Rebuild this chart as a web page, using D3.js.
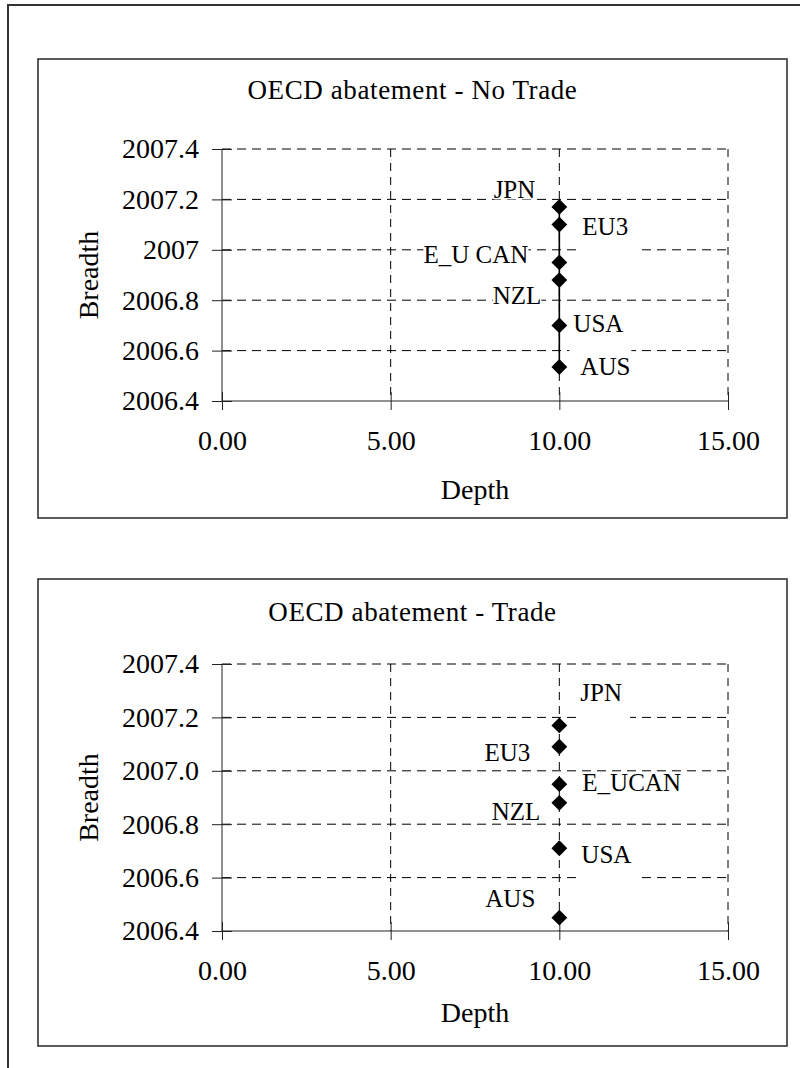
<!DOCTYPE html>
<html>
<head>
<meta charset="utf-8">
<script src="https://cdn.jsdelivr.net/npm/d3@7"></script>
<style>
  body { margin: 0; background: #fff; }
  text { font-family: "Liberation Serif", "Times New Roman", serif; fill: #000; }
</style>
</head>
<body>
<div id="svgcontainer"></div>
<script>
// values
var countriesNoTrade = ["JPN", "EU3", "E_U CAN", "NZL", "USA", "AUS"];
var depthNoTrade = [10, 10, 10, 10, 10, 10];
var breadthNoTrade = [2007.17, 2007.10, 2006.95, 2006.88, 2006.70, 2006.535];

var countriesTrade = ["JPN", "EU3", "E_UCAN", "NZL", "USA", "AUS"];
var depthTrade = [10, 10, 10, 10, 10, 10];
var breadthTrade = [2007.17, 2007.09, 2006.95, 2006.88, 2006.71, 2006.45];

var xTicks = [0, 5, 10, 15];
var yTicks = [2006.4, 2006.6, 2006.8, 2007.0, 2007.2, 2007.4];
var yTickLabelsNoTrade = ["2006.4", "2006.6", "2006.8", "2007", "2007.2", "2007.4"];
var yTickLabelsTrade = ["2006.4", "2006.6", "2006.8", "2007.0", "2007.2", "2007.4"];

// label placement (side and offset from marker)
var labelPosNoTrade = [
    { side: "left", dx: -24, dy: -17 },
    { side: "right", dx: 23, dy: 2 },
    { side: "left", dx: -31, dy: -8 },
    { side: "left", dx: -18, dy: 15 },
    { side: "right", dx: 14, dy: -2 },
    { side: "right", dx: 21, dy: 0 }
];
var labelPosTrade = [
    { side: "right", dx: 21, dy: -33 },
    { side: "left", dx: -29, dy: 6 },
    { side: "right", dx: 23, dy: -2 },
    { side: "left", dx: -19, dy: 9 },
    { side: "right", dx: 22, dy: 6 },
    { side: "left", dx: -24, dy: -19 }
];

var svg = d3.select("#svgcontainer").append("svg")
    .attr("width", 800)
    .attr("height", 1068);

// outer frame, its right and bottom edges lie outside the picture
svg.append("rect")
    .attr("x", 8).attr("y", 5)
    .attr("width", 820).attr("height", 1100)
    .attr("fill", "none")
    .attr("stroke", "#333")
    .attr("stroke-width", 2);

function drawChart(opt) {
    var g = svg.append("g");

    g.append("rect")
        .attr("x", opt.box[0]).attr("y", opt.box[1])
        .attr("width", opt.box[2] - opt.box[0])
        .attr("height", opt.box[3] - opt.box[1])
        .attr("fill", "#fff")
        .attr("stroke", "#333")
        .attr("stroke-width", 1.6);

    var x = d3.scaleLinear().domain([0, 15]).range([222, 728]);
    var y = d3.scaleLinear().domain([2006.4, 2007.4]).range(opt.yRange);

    // dashed gridlines
    g.selectAll("line.hgrid")
        .data(yTicks.slice(1)).enter().append("line")
        .attr("class", "hgrid")
        .attr("x1", x(0)).attr("x2", x(15))
        .attr("y1", function (d) { return y(d); })
        .attr("y2", function (d) { return y(d); })
        .attr("stroke", "#000")
        .attr("stroke-width", 1)
        .attr("stroke-dasharray", "9,6");
    g.selectAll("line.vgrid")
        .data(xTicks.slice(1)).enter().append("line")
        .attr("class", "vgrid")
        .attr("y1", y(2007.4)).attr("y2", y(2006.4))
        .attr("x1", function (d) { return x(d); })
        .attr("x2", function (d) { return x(d); })
        .attr("stroke", "#000")
        .attr("stroke-width", 1)
        .attr("stroke-dasharray", "8,6");

    // axes with crossing tick marks
    var yAxis = d3.axisLeft(y)
        .tickValues(yTicks)
        .tickFormat(function (d, i) { return opt.yLabels[i]; })
        .tickSize(10)
        .tickPadding(13);
    var ya = g.append("g")
        .attr("transform", "translate(" + x(0) + ",0)")
        .call(yAxis);
    ya.select(".domain").remove();
    ya.selectAll(".tick line").attr("x1", 10).attr("stroke", "#222");
    ya.selectAll(".tick text")
        .style("font-size", "28px")
        .style("font-family", "Liberation Serif");
    ya.append("line")
        .attr("y1", y(2007.4)).attr("y2", y(2006.4))
        .attr("stroke", "#222");

    var xAxis = d3.axisBottom(x)
        .tickValues(xTicks)
        .tickFormat(d3.format(".2f"))
        .tickSize(9)
        .tickPadding(20);
    var xa = g.append("g")
        .attr("transform", "translate(0," + y(2006.4) + ")")
        .call(xAxis);
    xa.select(".domain").remove();
    xa.selectAll(".tick line").attr("y1", -9).attr("stroke", "#222");
    xa.selectAll(".tick text")
        .style("font-size", "28px")
        .style("font-family", "Liberation Serif");
    xa.append("line")
        .attr("x1", x(0)).attr("x2", x(15))
        .attr("stroke", "#222");

    // titles
    g.append("text")
        .attr("x", (opt.box[0] + opt.box[2]) / 2)
        .attr("y", opt.titleY)
        .attr("text-anchor", "middle")
        .attr("dominant-baseline", "central")
        .style("font-size", "27px")
        .style("letter-spacing", "0.6px")
        .text(opt.title);
    g.append("text")
        .attr("x", (x(0) + x(15)) / 2)
        .attr("y", y(2006.4) + opt.depthOffset)
        .attr("text-anchor", "middle")
        .attr("dominant-baseline", "central")
        .style("font-size", "28px")
        .text("Depth");
    var midY = (y(2006.4) + y(2007.4)) / 2;
    g.append("text")
        .attr("transform", "translate(88," + midY + ") rotate(-90)")
        .attr("text-anchor", "middle")
        .attr("dominant-baseline", "central")
        .style("font-size", "28px")
        .text("Breadth");

    var data = opt.names.map(function (n, i) {
        return { name: n, x: opt.depth[i], y: opt.breadth[i], pos: opt.labelPos[i] };
    });

    if (opt.connect) {
        var lineFunction = d3.line()
            .x(function (d) { return x(d.x); })
            .y(function (d) { return y(d.y); });
        g.append("path")
            .attr("d", lineFunction(data))
            .attr("fill", "none")
            .attr("stroke", "#000")
            .attr("stroke-width", 1.6);
    }

    // data labels with white boxes
    var labels = g.selectAll("g.lbl")
        .data(data).enter().append("g")
        .attr("class", "lbl");
    labels.each(function (d) {
        var lg = d3.select(this);
        var px = x(d.x) + d.pos.dx;
        var py = y(d.y) + d.pos.dy;
        var bg = lg.append("rect").attr("fill", "#fff");
        var t = lg.append("text")
            .attr("x", px)
            .attr("y", py)
            .attr("text-anchor", d.pos.side === "left" ? "end" : "start")
            .attr("dominant-baseline", "central")
            .style("font-size", "25px")
            .text(d.name);
        var b = t.node().getBBox();
        if (d.pos.side === "right") {
            bg.attr("x", b.x - 4).attr("width", b.width + 12)
                .attr("y", py - 10).attr("height", 40);
        } else {
            bg.attr("x", b.x).attr("width", b.width)
                .attr("y", b.y + 4).attr("height", b.height - 8);
        }
    });

    // diamond markers
    g.selectAll("path.pt")
        .data(data).enter().append("path")
        .attr("class", "pt")
        .attr("d", d3.symbol().type(d3.symbolSquare).size(125))
        .attr("transform", function (d) {
            return "translate(" + x(d.x) + "," + y(d.y) + ") rotate(45)";
        })
        .attr("fill", "#000");
}

drawChart({
    box: [38, 59, 787, 518],
    yRange: [401, 149],
    titleY: 90,
    depthOffset: 88,
    title: "OECD abatement - No Trade",
    yLabels: yTickLabelsNoTrade,
    names: countriesNoTrade,
    depth: depthNoTrade,
    breadth: breadthNoTrade,
    labelPos: labelPosNoTrade,
    connect: true
});

drawChart({
    box: [38, 579, 787, 1046],
    yRange: [931, 664],
    titleY: 612,
    depthOffset: 81,
    title: "OECD abatement - Trade",
    yLabels: yTickLabelsTrade,
    names: countriesTrade,
    depth: depthTrade,
    breadth: breadthTrade,
    labelPos: labelPosTrade,
    connect: false
});
</script>
</body>
</html>
